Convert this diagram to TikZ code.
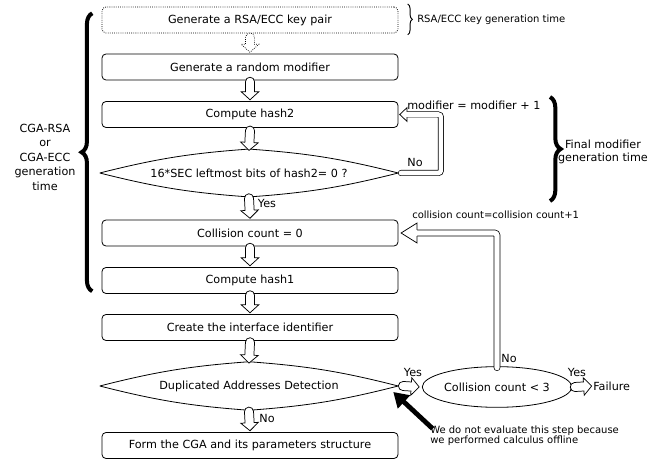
\documentclass[tikz,border=0pt]{standalone}
\usepackage{fontspec}
\setmainfont{DejaVu Sans}
\usetikzlibrary{
    shapes.geometric,
    arrows.meta,
    positioning,
    decorations.pathreplacing,
    calc
}
\newcommand{\mainsize}{\fontsize{8.4pt}{10pt}\selectfont}
\newcommand{\smallsize}{\fontsize{7.5pt}{7.6pt}\selectfont}
\tikzset{
    % Steps
    stepbox/.style={
        rectangle,
        draw=black,
        line width=0.6pt,
        rounded corners=3pt,
        minimum width=222pt,
        minimum height=19.5pt,
        inner sep=0pt,
        font=\mainsize
    },
    % Tests (outline drawn with bent sides)
    testbox/.style={
        diamond,
        aspect=6.3,
        minimum width=223.5pt,
        minimum height=35.5pt,
        inner sep=0pt,
        font=\mainsize
    },
    testedge/.style={
        draw=black,
        line width=0.6pt,
        bend left=5
    },
    testoval/.style={
        ellipse,
        draw=black,
        line width=0.6pt,
        minimum width=105pt,
        minimum height=30.5pt,
        inner sep=0pt,
        font=\mainsize
    },
    % Hollow arrows: #1 half shaft, #2 half head, #3 head length
    hollowarrow/.style n args={3}{
        draw=black,
        fill=white,
        line width=0.55pt,
        to path={
            let \p1=(\tikztostart), \p2=(\tikztotarget),
                \p3=($(\p2)!#3!(\p1)$),
                \n1={atan2(\y2-\y1,\x2-\x1)}
            in
            (\p2) -- ($(\p3)!#2!-90:(\p2)$) -- ($(\p3)!#1!-90:(\p2)$)
            -- ($(\p1)!#1!-90:(\p2)$) arc[start angle=\n1-90, delta angle=-180, radius=#1]
            -- ($(\p3)!#1!90:(\p2)$) -- ($(\p3)!#2!90:(\p2)$) -- cycle
        }
    },
    hollow/.style={hollowarrow={3.4pt}{6.6pt}{6pt}},
    % Heads of the loops
    hollowtip/.style n args={3}{
        draw=black,
        fill=white,
        line width=0.55pt,
        to path={
            let \p1=(\tikztostart), \p2=(\tikztotarget),
                \p3=($(\p2)!#3!(\p1)$)
            in
            ($(\p3)!#1!90:(\p2)$) -- ($(\p3)!#2!90:(\p2)$) -- (\p2)
            -- ($(\p3)!#2!-90:(\p2)$) -- ($(\p3)!#1!-90:(\p2)$)
        }
    },
    loopline/.style={
        draw=black,
        line width=0.55pt,
        double=white,
        double distance=#1,
        line cap=round,
        rounded corners=2pt
    },
    pointer/.style={
        -{Triangle[length=11pt, width=13pt]},
        line width=3.6pt
    },
    % Braces
    bigbrace/.style={
        decorate,
        decoration={brace, amplitude=8pt},
        line width=3pt
    },
    smallbrace/.style={
        decorate,
        decoration={brace, amplitude=3.5pt},
        line width=0.7pt
    },
    % Labels
    remark/.style={
        font=\mainsize,
        inner sep=0pt
    },
    smallremark/.style={
        font=\smallsize,
        inner sep=0pt
    }
}

\begin{document}
\begin{tikzpicture}[x=0.75pt, y=-0.75pt]
    \useasboundingbox (0,0) rectangle (665,460);

    % Main flow
    \node[stepbox, densely dotted] (keypair) at (250,20) {Generate a RSA/ECC key pair};
    \node[stepbox] (modifier) at (250,67) {Generate a random modifier};
    \node[stepbox] (hashtwo) at (250,114.5) {Compute hash2};
    \node[testbox] (sec) at (249,173) {16*SEC leftmost bits of hash2= 0 ?};
    \node[stepbox] (count) at (250,233) {Collision count = 0};
    \node[stepbox] (hashone) at (250,280.5) {Compute hash1};
    \node[stepbox] (iid) at (250,327.5) {Create the interface identifier};
    \node[testbox, minimum height=36pt] (dad) at (249,386) {Duplicated Addresses Detection};
    \node[stepbox] (cga) at (250,445.5) {Form the CGA and its parameters structure};

    % Diamond outlines
    \foreach \t in {sec,dad}
        \draw[testedge] (\t.west) to (\t.north) to (\t.east) to (\t.south) to (\t.west);

    % Collision test
    \node[testoval] (three) at (497,387) {Collision count < 3};
    \node[remark, anchor=west] (failure) at (593,386) {Failure};

    % Flow arrows
    \draw[hollow, densely dotted] ([yshift=-3pt]keypair.south) to ([yshift=1pt]modifier.north);
    \draw[hollow] ([yshift=-1pt]modifier.south) to ([yshift=1pt]hashtwo.north);
    \draw[hollow] ([yshift=-2pt]hashtwo.south) to ([yshift=-1pt]sec.north);
    \draw[hollow] ([yshift=-1pt]sec.south) to ([yshift=1pt]count.north);
    \draw[hollow] ([yshift=-1pt]count.south) to ([yshift=1pt]hashone.north);
    \draw[hollow] ([yshift=-1pt]hashone.south) to ([yshift=1pt]iid.north);
    \draw[hollow] ([yshift=-1pt]iid.south) to ([yshift=-1pt]dad.north);
    \draw[hollow] ([yshift=-1pt]dad.south) to ([yshift=1pt]cga.north);
    \draw[hollow] ([xshift=3.5pt]dad.east) to ([xshift=-2pt]three.west);
    \draw[hollow] ([xshift=2pt]three.east) to ([xshift=-1pt]failure.west);

    % Loops
    \draw[loopline=3.4pt] ([xshift=2pt]sec.east) -- ++(40,0) coordinate (modcorner) |- ([xshift=5pt]hashtwo.east);
    \draw[hollowtip={2pt}{5.2pt}{5.5pt}] (modcorner |- hashtwo.east) to ([xshift=1pt]hashtwo.east);
    \draw[loopline=4pt] ([yshift=-1pt]three.north) |- ([xshift=11pt]count.east);
    \draw[hollowtip={2.3pt}{7.5pt}{12pt}] (three.north |- count.east) to ([xshift=2pt]count.east);

    % Loop labels
    \node[remark, anchor=south west] (inc) at (407,110) {modifier = modifier + 1};
    \node[remark] (nomod) at (415,162) {No};
    \node[smallremark, anchor=west] (inccount) at (412,215) {collision count=collision count+1};
    \node[remark] (nothree) at (509,358) {No};
    \node[remark] (yessec) at (267,203) {Yes};
    \node[remark] (nodad) at (267,418) {No};
    \node[remark] (yesdad) at (413,372) {Yes};
    \node[remark] (yesthree) at (577,372) {Yes};

    % Note
    \node[smallremark, anchor=north west, align=left] (note) at (430,426) {We do not evaluate this step because\\we performed calculus offline};
    \draw[pointer] ([shift={(2pt,-2pt)}]note.north west) -- ([shift={(-5,6)}]dad.east);

    % Braces
    \draw[bigbrace] ([xshift=-7pt,yshift=2pt]hashone.south west) -- ([xshift=-7pt,yshift=-5pt]keypair.north west);
    \node[remark, align=center, font=\fontsize{8.4pt}{10.9pt}\selectfont] (cgatime) at (45,157) {CGA-RSA\\or\\CGA-ECC\\generation\\time};
    \draw[smallbrace] ([xshift=7pt,yshift=2pt]keypair.north east) -- ([xshift=7pt,yshift=-1pt]keypair.south east);
    \node[smallremark, anchor=west] (keytime) at (417,20) {RSA/ECC key generation time};
    \coordinate (fmtop) at (550,97);
    \coordinate (fmbottom) at (550,201);
    \draw[bigbrace] (fmtop) -- (fmbottom);
    \node[remark, align=center] (fmtime) at (603,152) {Final modifier\\generation time};
\end{tikzpicture}
\end{document}
